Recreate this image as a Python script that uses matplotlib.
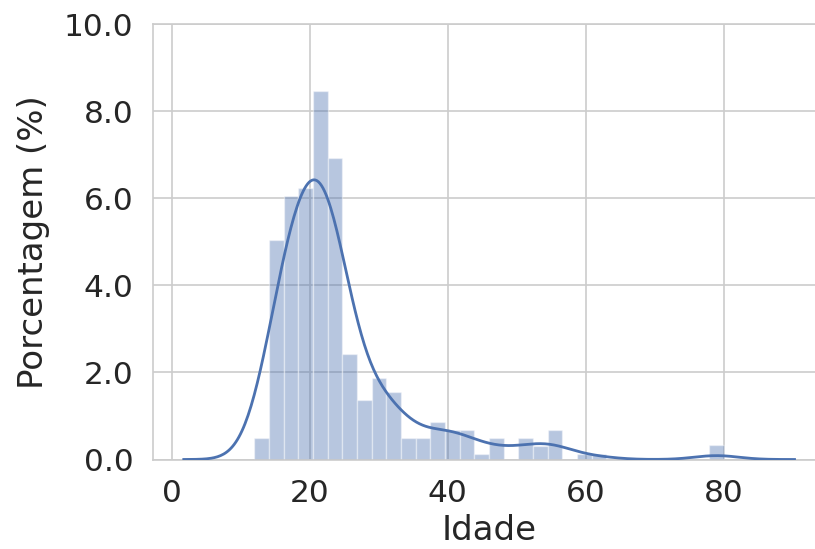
import numpy as np
import matplotlib
matplotlib.use("Agg")
import matplotlib.pyplot as plt

# Age histogram: 32 equal bins between 12 and 80 years, heights in percent (density x 100)
bin_start = 12.0
bin_end = 80.0
n_bins = 32
heights = [0.50, 5.03, 6.06, 6.24, 8.46, 6.92, 2.43, 1.36,
           1.86, 1.55, 0.49, 0.49, 0.87, 0.68, 0.68, 0.12,
           0.50, 0.00, 0.50, 0.31, 0.68, 0.00, 0.12, 0.12,
           0.00, 0.00, 0.00, 0.00, 0.00, 0.00, 0.00, 0.33]
bandwidth = 3.2

x_ticks = [0, 20, 40, 60, 80]
y_ticks = [0, 2, 4, 6, 8, 10]
x_label = "Idade"
y_label = "Porcentagem (%)"

blue = "#4C72B0"
text_col = "#262626"
grid_col = "#CCCCCC"

edges = np.linspace(bin_start, bin_end, n_bins + 1)
width = edges[1] - edges[0]
centers = (edges[:-1] + edges[1:]) / 2
h = np.asarray(heights)

# Gaussian kernel density estimate from the binned ages
weights = h / h.sum()
xs = np.linspace(bin_start - 3.2 * bandwidth, bin_end + 3.2 * bandwidth, 400)
dens = (weights[None, :] *
        np.exp(-0.5 * ((xs[:, None] - centers[None, :]) / bandwidth) ** 2)
        / (bandwidth * np.sqrt(2 * np.pi))).sum(axis=1) * 100

fig = plt.figure(figsize=(8.15, 5.49), dpi=100)
ax = fig.add_axes([153 / 815, 89.5 / 549, (826 - 153) / 815, (459.5 - 24) / 549])

ax.bar(edges[:-1], h, width=width, align="edge", color=blue, alpha=0.4,
       edgecolor="white", linewidth=1.0, zorder=2)
ax.plot(xs, dens, color=blue, lw=2.0, zorder=3)

ax.set_xlim(-2.7, 94.8)
ax.set_ylim(0, 10)
ax.set_xticks(x_ticks)
ax.set_yticks(y_ticks)
ax.set_yticklabels([f"{v:.1f}" for v in y_ticks])
ax.set_axisbelow(True)
ax.grid(True, color=grid_col, lw=1.2)
for s in ax.spines.values():
    s.set_color(grid_col)
    s.set_linewidth(1.2)
ax.tick_params(axis="both", length=0, labelsize=22.5, colors=text_col, pad=14)
ax.set_xlabel(x_label, fontsize=24.5, color=text_col, labelpad=4)
ax.set_ylabel(y_label, fontsize=24.5, color=text_col, labelpad=10)

fig.savefig("out.png", dpi=100)
